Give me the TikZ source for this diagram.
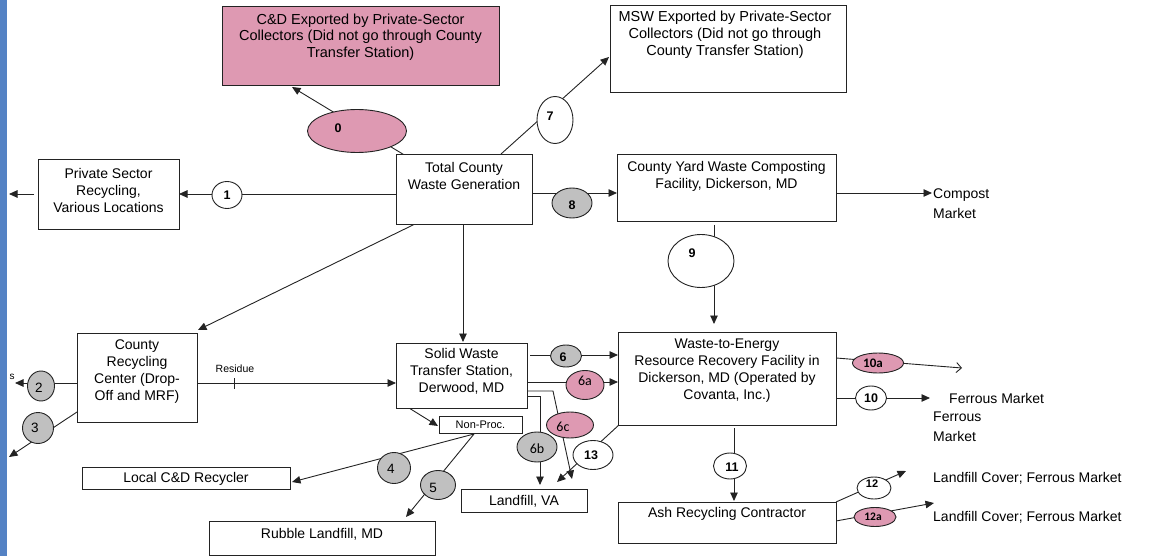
\documentclass[tikz,border=0pt]{standalone}
\usepackage{fontspec}
\setmainfont{Liberation Sans}
\newfontfamily\calib{Carlito}
\usetikzlibrary{arrows.meta,shapes.geometric}
\definecolor{pinkf}{RGB}{222,153,178}
\definecolor{grayf}{RGB}{192,192,192}
\definecolor{edgec}{RGB}{35,35,35}
\definecolor{barblue}{RGB}{84,130,196}
\pgfdeclarelayer{background}
\pgfsetlayers{background,main}
\begin{document}
\begin{tikzpicture}[x=1pt,y=-1pt,
 box/.style={draw=edgec, line width=0.9pt, inner sep=0pt, outer sep=0pt, anchor=north west, fill=white},
 txt/.style={align=center, font=\fontsize{14}{17}\selectfont, inner sep=0pt},
 side/.style={align=left, anchor=west, font=\fontsize{14}{20}\selectfont, inner sep=0pt},
 lab/.style={ellipse, draw=edgec, line width=0.9pt, inner sep=0pt, outer sep=0pt, fill=white},
 labp/.style={lab, fill=pinkf},
 labg/.style={lab, fill=grayf},
 bnum/.style={font=\bfseries\fontsize{12.5}{14}\selectfont},
 rnum/.style={font=\fontsize{13.5}{14}\selectfont},
 cnum/.style={font=\calib\fontsize{14}{14}\selectfont},
 conn/.style={draw=edgec, line width=0.9pt},
 arr/.style={conn, -{Triangle[length=8.5pt,width=7.5pt]}},
 oarr/.style={conn, -{Straight Barb[length=5pt,width=10pt]}},
]
\useasboundingbox (0,0) rectangle (1157,556);
\fill[barblue] (0,0) rectangle (7,556);

% ---------- boxes ----------
\node[box, fill=pinkf, minimum width=277pt, minimum height=79pt] (cd) at (222,6) {};
\node[txt, font=\fontsize{14.5}{16.5}\selectfont] (cdt) at (360.5,37) {C\&D Exported by Private-Sector\\Collectors (Did not go through County\\Transfer Station)};

\node[box, minimum width=236pt, minimum height=87pt] (msw) at (610,5) {};
\node[txt, font=\fontsize{14.5}{17}\selectfont] (mswt) at (725,34.5) {MSW Exported by Private-Sector\\Collectors (Did not go through\\County Transfer Station)};

\node[box, minimum width=141pt, minimum height=70pt] (priv) at (38,159) {};
\node[txt] (privt) at (108.5,190) {Private Sector\\Recycling,\\Various Locations};

\node[box, minimum width=136pt, minimum height=70pt] (tot) at (396,154) {};
\node[txt] (tott) at (464,176) {Total County\\Waste Generation};

\node[box, minimum width=219pt, minimum height=67pt] (yard) at (617,154) {};
\node[txt] (yardt) at (726.5,176) {County Yard Waste Composting\\Facility, Dickerson, MD};

\node[side] (compost) at (933,204) {Compost\\Market};

\node[box, minimum width=120pt, minimum height=89pt] (crc) at (77,333) {};
\node[txt] (crct) at (137,371.5) {County\\Recycling\\Center (Drop-\\Off and MRF)};

\node[box, minimum width=131pt, minimum height=65pt] (sw) at (396,343) {};
\node[txt] (swt) at (461.5,371) {Solid Waste\\Transfer Station,\\Derwood, MD};

\node[box, minimum width=83pt, minimum height=17pt] (np) at (439,416) {};
\node[txt, font=\fontsize{11}{13}\selectfont] (npt) at (480.5,425) {Non-Proc.};

\node[box, minimum width=218pt, minimum height=93pt] (wte) at (618,332) {};
\node[txt] (wtet) at (727,371) {Waste-to-Energy\\Resource Recovery Facility in\\Dickerson, MD (Operated by\\Covanta, Inc.)};

\node[box, minimum width=218pt, minimum height=41pt] (ash) at (618,502) {};
\node[txt] (asht) at (727,514) {Ash Recycling Contractor};

\node[box, minimum width=126pt, minimum height=23pt] (lva) at (461,489) {};
\node[txt] (lvat) at (524,501) {Landfill, VA};

\node[box, minimum width=208pt, minimum height=22pt] (lcd) at (82,467) {};
\node[txt] (lcdt) at (186,479) {Local C\&D Recycler};

\node[box, minimum width=226pt, minimum height=34pt] (rub) at (209,521) {};
\node[txt] (rubt) at (322,534) {Rubble Landfill, MD};

\node[side] (fm1) at (949,398) {Ferrous Market};
\node[side] (fm2) at (933,427) {Ferrous\\Market};
\node[side] (lc1) at (933,478) {Landfill Cover; Ferrous Market};
\node[side] (lc2) at (933,517) {Landfill Cover; Ferrous Market};

\node[font=\fontsize{10.5}{12}\selectfont, inner sep=0pt] (res) at (235,369) {Residue};
\node[font=\fontsize{10}{12}\selectfont, inner sep=0pt] (sfrag) at (12,377) {s};

% ---------- label ellipses ----------
\node[labp, minimum width=99pt, minimum height=43pt, label={[bnum, xshift=-19pt, yshift=3pt]center:0}] (e0) at (357,131) {};
\node[lab, minimum width=30pt, minimum height=27pt, label={[bnum]center:1}] (e1) at (227,195) {};
\node[lab, minimum width=36pt, minimum height=47pt, label={[bnum, xshift=-5pt, yshift=4pt]center:7}] (e7) at (555,120) {};
\node[labg, minimum width=40pt, minimum height=30pt, label={[bnum, yshift=-2pt]center:8}] (e8) at (572,203) {};
\node[lab, minimum width=66pt, minimum height=53pt, label={[bnum, xshift=-9pt, yshift=8pt]center:9}] (e9) at (701,261) {};
\node[labg, minimum width=27pt, minimum height=30pt, label={[rnum, xshift=-2pt, yshift=-2pt]center:2}] (e2) at (41,386) {};
\node[labg, minimum width=31pt, minimum height=31pt, label={[rnum, xshift=-3pt]center:3}] (e3) at (38,428) {};
\node[labg, minimum width=33pt, minimum height=31pt, label={[rnum, xshift=-3pt, yshift=-1pt]center:4}] (e4) at (394,468) {};
\node[labg, minimum width=35pt, minimum height=29pt, label={[rnum, xshift=-5pt, yshift=-3pt]center:5}] (e5) at (438,485) {};
\node[labg, minimum width=31pt, minimum height=22pt, label={[bnum, xshift=-3pt, yshift=-1pt]center:6}] (e6) at (566,356) {};
\node[labp, minimum width=38pt, minimum height=29pt, label={[cnum, yshift=4pt]center:6a}] (e6a) at (585,385) {};
\node[labp, minimum width=47pt, minimum height=26pt, label={[cnum, xshift=-7pt, yshift=-2pt]center:6c}] (e6c) at (570,425) {};
\node[labg, minimum width=40pt, minimum height=30pt, label={[cnum, yshift=-2pt]center:6b}] (e6b) at (537,447) {};
\node[lab, minimum width=40pt, minimum height=29pt, label={[bnum, xshift=-2pt]center:13}] (e13) at (593,455) {};
\node[labp, minimum width=51pt, minimum height=20pt, label={[font=\calib\bfseries\fontsize{13}{14}\selectfont, xshift=-5pt]center:10a}] (e10a) at (878,363) {};
\node[lab, minimum width=31pt, minimum height=24pt, label={[bnum]center:10}] (e10) at (871,398) {};
\node[lab, minimum width=33pt, minimum height=26pt, label={[bnum, xshift=2pt, yshift=-1pt]center:11}] (e11) at (730,466) {};
\node[lab, minimum width=34pt, minimum height=22pt, label={[font=\bfseries\fontsize{11}{12}\selectfont, xshift=-2pt, yshift=4pt]center:12}] (e12) at (874,488) {};
\node[labp, minimum width=42pt, minimum height=19pt, label={[font=\calib\bfseries\fontsize{11.5}{12}\selectfont, xshift=-2pt]center:12a}] (e12a) at (875,517) {};

% ---------- connector end points ----------
\coordinate (t0) at (406,156);
\coordinate (cdtip) at (292,87);
\coordinate (t1) at (400,194);
\coordinate (pl) at (34,194);
\coordinate (bar1) at (9,194);
\coordinate (t7) at (501,154);
\coordinate (msw7) at (609,57);
\coordinate (t8) at (532,193);
\coordinate (y8) at (617,193);
\coordinate (ycm) at (836,193);
\coordinate (cmtip) at (932,193);
\coordinate (y9) at (714,225);
\coordinate (w9) at (714,324);
\coordinate (tcr) at (415,224);
\coordinate (crtip) at (198,330);
\coordinate (tsw) at (463,224);
\coordinate (swtip) at (463,342);
\coordinate (cr2) at (77,383);
\coordinate (tip2) at (15,383);
\coordinate (cr3) at (77,412);
\coordinate (tip3) at (9,457);
\coordinate (crres) at (197,383);
\coordinate (swres) at (396,383);
\coordinate (swnp) at (409,408);
\coordinate (nptip) at (438,426);
\coordinate (np45) at (474,434);
\coordinate (tip4) at (292,482);
\coordinate (tip5) at (406,517);
\coordinate (sw6) at (530,355);
\coordinate (w6) at (618,355);
\coordinate (sw6a) at (527,382);
\coordinate (w6a) at (618,382);
\coordinate (sw6b) at (527,396);
\coordinate (tip6b) at (540,485);
\coordinate (sw6c) at (527,391);
\coordinate (bend6c) at (553,391);
\coordinate (tip6c) at (572,479);
\coordinate (w13) at (620,424);
\coordinate (tip13) at (557,482);
\coordinate (w10a) at (836,358);
\coordinate (tip10a) at (962,368);
\coordinate (w10) at (836,398);
\coordinate (tip10) at (930,398);
\coordinate (w11) at (734,428);
\coordinate (tip11) at (734,501);
\coordinate (a12) at (836,502);
\coordinate (tip12) at (906,471);
\coordinate (a12a) at (836,521);
\coordinate (tip12a) at (934,503);

% ---------- connectors ----------
\begin{pgfonlayer}{background}
\draw[arr] (t0) -- (cdtip);
\draw[arr] (t1) -- (priv.east |- t1);
\draw[arr] (pl) -- (bar1);
\draw[arr] (t7) -- (msw7);
\draw[arr] (t8) -- (y8);
\draw[arr] (ycm) -- (cmtip);
\draw[arr] (y9) -- (w9);
\draw[arr] (tcr) -- (crtip);
\draw[arr] (tsw) -- (swtip);
\draw[arr] (cr2) -- (tip2);
\draw[arr] (cr3) -- (tip3);
\draw[arr] (crres) -- (swres);
\draw[conn] (234,378) -- (234,389);
\draw[arr] (swnp) -- (nptip);
\draw[arr] (np45) -- (tip4);
\draw[arr] (np45) -- (tip5);
\draw[arr] (sw6) -- (w6);
\draw[arr] (sw6a) -- (w6a);
\draw[arr] (sw6b) -| (tip6b);
\draw[arr] (sw6c) -- (bend6c) -- (tip6c);
\draw[arr] (w13) -- (tip13);
\draw[oarr] (w10a) -- (tip10a);
\draw[arr] (w10) -- (tip10);
\draw[arr] (w11) -- (tip11);
\draw[arr] (a12) -- (tip12);
\draw[arr] (a12a) -- (tip12a);
\end{pgfonlayer}
\end{tikzpicture}
\end{document}
